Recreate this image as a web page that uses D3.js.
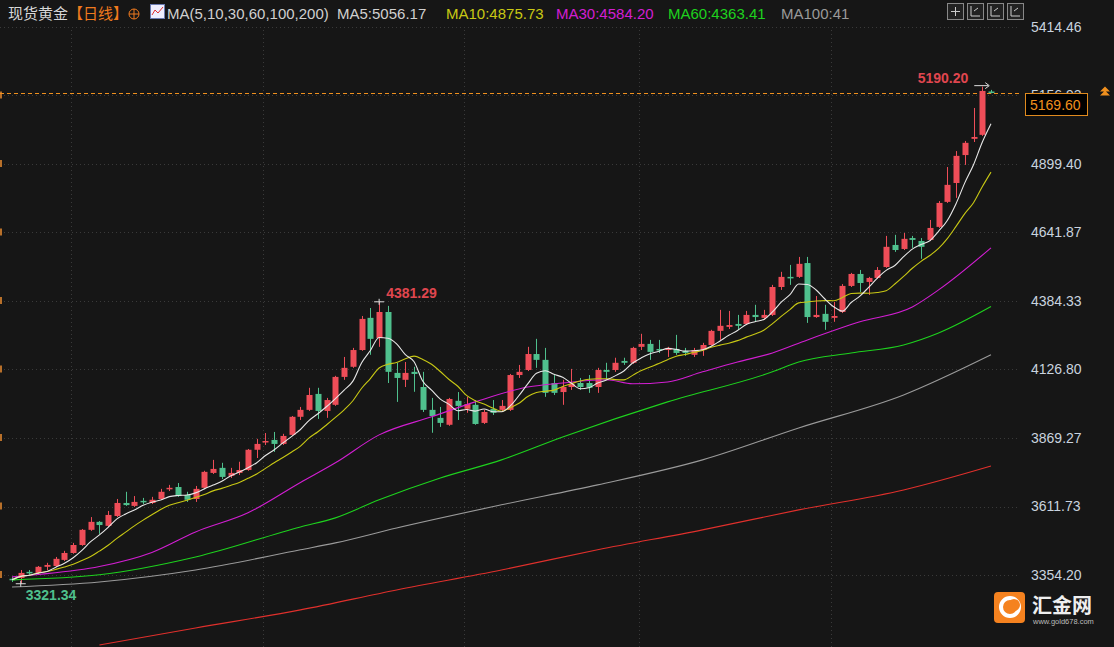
<!DOCTYPE html>
<html>
<head>
<meta charset="utf-8">
<script src="https://cdn.jsdelivr.net/npm/d3@7/dist/d3.min.js"></script>
<style>
  body { margin: 0; background: #161616; overflow: hidden; }
  svg { display: block; font-family: "Noto Sans CJK SC", "Liberation Sans", Arial, sans-serif; }
</style>
</head>
<body>
<svg id="chart" width="1114" height="647"></svg>
<script>
// daily candles
const opens = [3340,3343,3366,3362,3385,3388,3411,3437,3467,3524,3554,3539,3576,3625,3614,3633,3625,3640,3678,3685,
  3655,3640,3682,3738,3757,3727,3738,3749,3825,3855,3862,3847,3881,3949,3975,4035,3971,3994,4099,4137,
  4200,4321,4245,4343,4114,4088,4118,4061,3975,3945,3919,4009,3979,3994,3926,3979,3975,3975,4106,4125,
  4185,4163,4076,4042,4061,4076,4076,4061,4125,4125,4159,4152,4212,4223,4204,4200,4204,4197,4182,4200,
  4219,4272,4287,4298,4298,4332,4321,4332,4437,4475,4475,4527,4324,4336,4321,4343,4441,4486,4456,4471,
  4512,4595,4580,4621,4610,4614,4663,4757,4828,4933,4994,5009,5172];
const highs = [3347,3373,3373,3388,3400,3422,3445,3475,3527,3572,3557,3595,3640,3667,3651,3644,3648,3678,3693,3700,
  3667,3689,3746,3787,3776,3757,3780,3828,3866,3888,3892,3885,3952,3986,4058,4058,4020,4103,4174,4208,
  4328,4358,4381.29,4366,4152,4155,4137,4118,4020,3986,4020,4042,4024,4012,3975,4012,4012,4110,4144,4212,
  4242,4208,4106,4088,4129,4095,4106,4133,4152,4171,4171,4212,4261,4238,4238,4212,4257,4208,4208,4227,
  4276,4351,4347,4332,4347,4370,4351,4445,4494,4520,4550,4550,4403,4370,4381,4448,4490,4501,4475,4512,
  4629,4633,4640,4629,4621,4689,4760,4888,4948,4986,5110,5190.20,5178];
const lows = [3328,3321.34,3355,3359,3373,3385,3407,3434,3464,3520,3509,3535,3572,3614,3610,3621,3621,3637,3670,3648,
  3629,3629,3678,3734,3715,3719,3730,3746,3794,3843,3817,3843,3877,3937,3971,3941,3945,3990,4088,4133,
  4197,4182,4212,4076,4005,4061,4043,3967,3889,3911,3915,3937,3964,3919,3922,3956,3967,3971,4095,4121,
  4133,4024,4031,3994,4050,4050,4039,4039,4088,4118,4144,4148,4200,4163,4189,4174,4182,4178,4174,4178,
  4216,4238,4279,4276,4294,4306,4313,4328,4426,4445,4471,4302,4321,4276,4306,4339,4437,4418,4407,4467,
  4509,4569,4576,4584,4543,4610,4659,4753,4772,4896,4982,5005,5165];
const closes = [3336,3362,3362,3385,3392,3415,3437,3467,3524,3554,3542,3580,3625,3617,3629,3629,3637,3667,3682,3651,
  3637,3678,3742,3753,3723,3738,3749,3825,3847,3858,3847,3877,3949,3975,4031,3971,4012,4099,4133,4200,
  4317,4242,4343,4118,4095,4114,4110,3975,3952,3926,4016,3990,3997,3922,3967,3964,3990,4106,4118,4185,
  4163,4039,4039,4061,4073,4061,4058,4125,4118,4152,4152,4208,4223,4193,4200,4208,4189,4189,4200,4219,
  4272,4291,4294,4291,4332,4324,4332,4437,4475,4473,4524,4324,4332,4306,4328,4441,4486,4452,4471,4501,
  4588,4576,4618,4614,4588,4659,4753,4821,4930,4979,5001,5174,5169.60];

// longer averages, read at sample points (candle index, value)
const ma30Idx = [0,3,10,16,21,27,33,37,42,48,53,59,63,68,71,75,79,83,87,91,97,103,106,112];
const ma30Val = [3347,3356,3386,3439,3516,3588,3702,3776,3881,3949,4005,4061,4076,4088,4073,4080,4118,4155,4189,4238,4306,4362,4426,4584.20];
const ma60Idx = [0,10,21,33,37,42,49,56,63,75,87,90,96,102,106,112];
const ma60Val = [3336,3355,3422,3535,3569,3637,3719,3787,3873,4005,4118,4155,4189,4219,4264,4363.41];
const ma100Idx = [0,10,21,33,37,44,56,67,79,90,102,112];
const ma100Val = [3309,3328,3373,3449,3475,3531,3618,3693,3787,3907,4031,4182];
const ma200Idx = [10,21,33,44,56,67,79,90,102,112];
const ma200Val = [3091,3155,3223,3298,3373,3449,3524,3599,3674,3764];

const yTicks = [5414.46,5156.93,4899.40,4641.87,4384.33,4126.80,3869.27,3611.73,3354.20];
const vGridIdx = [7,29,52,72,94];

const W = 1114, H = 647;
const svg = d3.select('#chart');
svg.append('rect').attr('width', W).attr('height', H).attr('fill', '#161616');

const x = d3.scaleLinear().domain([0, closes.length - 1]).range([12, 991]);
const y = d3.scaleLinear().domain([3354.20, 5414.46]).range([575, 27]);

// grid
const grid = svg.append('g').attr('stroke', '#3a3a3a').attr('stroke-dasharray', '1,3');
grid.selectAll('.h').data(yTicks).join('line')
  .attr('x1', 0).attr('x2', 1020).attr('y1', d => Math.round(y(d)) + 0.5).attr('y2', d => Math.round(y(d)) + 0.5);
grid.selectAll('.v').data(vGridIdx).join('line')
  .attr('y1', 30).attr('y2', 647).attr('x1', d => Math.round(x(d - 0.3)) + 0.5).attr('x2', d => Math.round(x(d - 0.3)) + 0.5);

// left edge fragments
svg.append('g').selectAll('rect').data(yTicks.slice(1)).join('rect')
  .attr('x', 0).attr('y', d => y(d) - 4).attr('width', 2).attr('height', 7).attr('fill', '#b8702a');

// right axis
const axis = d3.axisRight(y).tickValues(yTicks).tickSize(0).tickFormat(d3.format('.2f'));
const ag = svg.append('g').attr('transform', 'translate(1026,0)').call(axis);
ag.select('.domain').remove();
ag.selectAll('text').attr('fill', '#c9d3df').attr('font-size', 14).attr('font-family', 'Liberation Sans, Arial').attr('dx', 2);

// moving averages
const line = d3.line().x(d => x(d[0])).y(d => y(d[1])).curve(d3.curveMonotoneX);
function movAvg(n) {
  return closes.map((c, i) => {
    const s = closes.slice(Math.max(0, i - n + 1), i + 1);
    return [i, d3.mean(s)];
  });
}
const mas = [
  { pts: d3.zip(ma200Idx, ma200Val), color: '#e0302c' },
  { pts: d3.zip(ma100Idx, ma100Val), color: '#9a9a9a' },
  { pts: d3.zip(ma60Idx, ma60Val), color: '#1ed21e' },
  { pts: d3.zip(ma30Idx, ma30Val), color: '#d21ed2' },
  { pts: movAvg(10), color: '#c8c814' },
  { pts: movAvg(5), color: '#e8e8e8' }
];

// current price line
const py = Math.round(y(5169.60)) + 1.5;
svg.append('line').attr('x1', 0).attr('x2', 1022).attr('y1', py).attr('y2', py)
  .attr('stroke', '#f0901e').attr('stroke-dasharray', '4,3');

// candles
const cw = 6;
const cg = svg.append('g');
closes.forEach((c, i) => {
  const o = opens[i], up = c >= o;
  const col = up ? '#ee4d58' : '#4fc08d';
  const cx = Math.round(x(i)) + 0.5;
  cg.append('line').attr('x1', cx).attr('x2', cx).attr('y1', y(highs[i])).attr('y2', y(lows[i]))
    .attr('stroke', col).attr('stroke-width', 1);
  const top = y(Math.max(o, c)), bot = y(Math.min(o, c));
  cg.append('rect').attr('x', cx - cw / 2).attr('y', top).attr('width', cw).attr('height', Math.max(1.5, bot - top))
    .attr('fill', col);
});

mas.forEach(m => {
  svg.append('path').datum(m.pts).attr('fill', 'none').attr('stroke', m.color).attr('stroke-width', 1.1).attr('d', line);
});

// high / low markers
function marker(i, v, label, color, dx, dy, anchor) {
  const cx = x(i), cy = y(v);
  svg.append('line').attr('x1', cx - 5).attr('x2', cx + 5).attr('y1', cy).attr('y2', cy).attr('stroke', '#ddd');
  svg.append('line').attr('x1', cx).attr('x2', cx).attr('y1', cy - 3).attr('y2', cy + 3).attr('stroke', '#ddd');
  svg.append('text').attr('x', cx + dx).attr('y', cy + dy).attr('fill', color).attr('font-size', 14)
    .attr('font-weight', 'bold').attr('font-family', 'Liberation Sans, Arial').attr('text-anchor', anchor).text(label);
}
marker(42, 4381.29, '4381.29', '#e0464f', 7, -4, 'start');
marker(1, 3321.34, '3321.34', '#4fc08d', 5, 16, 'start');
// top marker with arrow
const hx = x(111), hy = y(5190.20);
svg.append('line').attr('x1', hx - 8).attr('x2', hx + 6).attr('y1', hy - 1).attr('y2', hy - 1).attr('stroke', '#ddd');
svg.append('path').attr('d', `M${hx + 3},${hy - 4} L${hx + 7},${hy - 1} L${hx + 3},${hy + 2}`).attr('fill', 'none').attr('stroke', '#ddd');
svg.append('text').attr('x', hx - 14).attr('y', hy - 4).attr('fill', '#e0464f').attr('font-size', 14)
  .attr('font-weight', 'bold').attr('font-family', 'Liberation Sans, Arial').attr('text-anchor', 'end').text('5190.20');

// price box
svg.append('rect').attr('x', 1025.5).attr('y', py).attr('width', 62).attr('height', 22).attr('fill', '#000').attr('stroke', '#e08a1e');
svg.append('text').attr('x', 1030).attr('y', py + 16).attr('fill', '#f0901e').attr('font-size', 14)
  .attr('font-family', 'Liberation Sans, Arial').text('5169.60');
svg.append('path').attr('d', `M1100,${py - 2} L1105,${py - 7} L1110,${py - 2} Z M1100,${py + 2} L1105,${py - 3} L1110,${py + 2} Z`).attr('fill', '#f0901e');

// header
const head = svg.append('text').attr('x', 8).attr('y', 19).attr('font-size', 15).attr('font-family', 'Noto Sans CJK SC, Liberation Sans');
head.append('tspan').attr('fill', '#d8d8d8').text('现货黄金');
head.append('tspan').attr('fill', '#f07a1e').text('【日线】');
svg.append('circle').attr('cx', 134).attr('cy', 14).attr('r', 5).attr('fill', 'none').attr('stroke', '#f07a1e');
svg.append('path').attr('d', 'M129,14 H139 M134,9 V19').attr('stroke', '#f07a1e');
svg.append('rect').attr('x', 150.5).attr('y', 4.5).attr('width', 14).attr('height', 14).attr('fill', '#eef').attr('stroke', '#6a7ab0');
svg.append('path').attr('d', 'M152,15 L155,10 L158,13 L163,7').attr('fill', 'none').attr('stroke', '#e03030');
const legend = [
  ['MA(5,10,30,60,100,200)', '#d0d0d0', 167],
  ['MA5:5056.17', '#d0d0d0', 337],
  ['MA10:4875.73', '#c8c814', 446],
  ['MA30:4584.20', '#d21ed2', 556],
  ['MA60:4363.41', '#1ed21e', 668],
  ['MA100:41', '#9a9a9a', 781]
];
svg.append('g').selectAll('text').data(legend).join('text')
  .attr('x', d => d[2]).attr('y', 19).attr('fill', d => d[1]).attr('font-size', 15)
  .attr('font-family', 'Liberation Sans, Arial').text(d => d[0]);

// toolbar buttons
[947, 967, 987, 1007].forEach(bx => {
  svg.append('rect').attr('x', bx + 0.5).attr('y', 3.5).attr('width', 16).attr('height', 16).attr('fill', '#222').attr('stroke', '#888');
  svg.append('path').attr('d', `M${bx + 4},${bx === 947 ? 11.5 : 6} ${bx === 947 ? `H${bx + 13} M${bx + 8.5},7 V16` : `V16 H${bx + 13} M${bx + 7},11 L${bx + 11},8`}`)
    .attr('stroke', '#ccc').attr('fill', 'none');
});

// logo
svg.append('rect').attr('x', 994).attr('y', 592).attr('width', 31).attr('height', 31).attr('rx', 4).attr('fill', '#f5821f');
svg.append('circle').attr('cx', 1010).attr('cy', 607).attr('r', 9).attr('fill', 'none').attr('stroke', '#fff').attr('stroke-width', 4);
svg.append('circle').attr('cx', 1014).attr('cy', 605).attr('r', 6).attr('fill', '#f5821f');
svg.append('text').attr('x', 1032).attr('y', 613).attr('fill', '#eee').attr('font-size', 20).attr('font-weight', 'bold')
  .attr('font-family', 'Noto Sans CJK SC').text('汇金网');
svg.append('text').attr('x', 1033).attr('y', 624).attr('fill', '#bbb').attr('font-size', 7.5)
  .attr('font-family', 'Liberation Sans, Arial').text('www.gold678.com');
</script>
</body>
</html>
